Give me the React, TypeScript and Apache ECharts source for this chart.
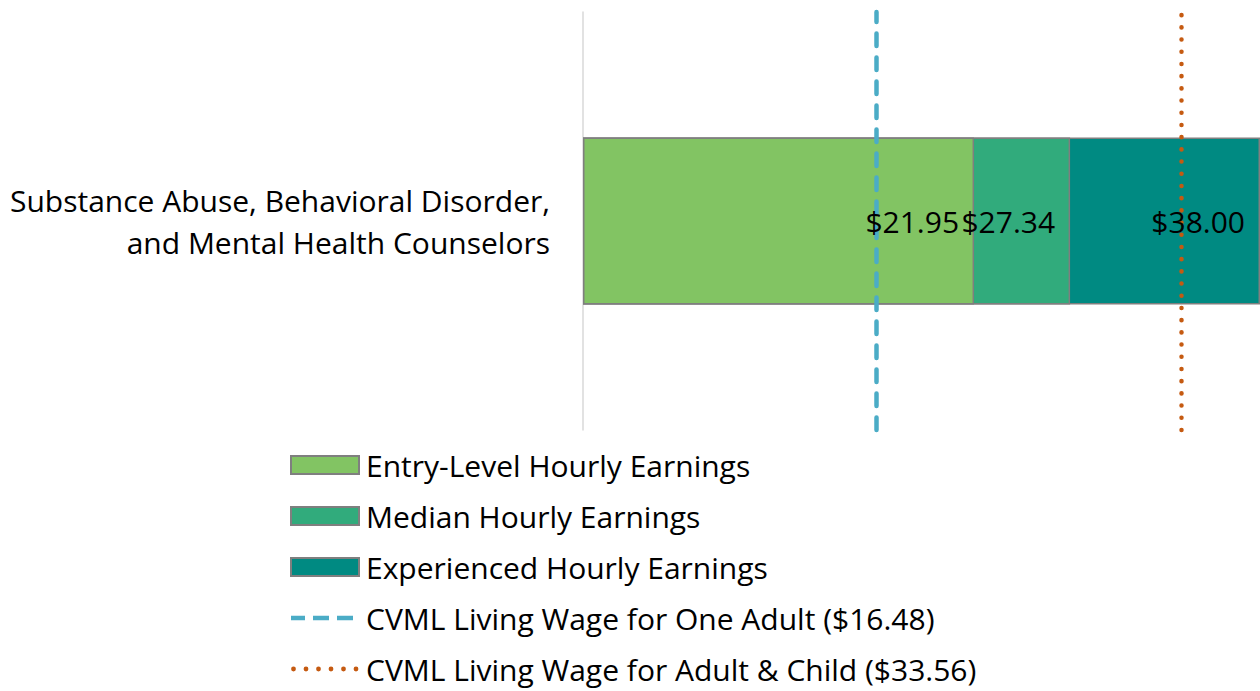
import React, { useEffect, useRef } from "react";
import * as echarts from "echarts";

const categories = ["Substance Abuse, Behavioral Disorder,\nand Mental Health Counselors"];
const entryLevel = [21.95];
const median = [27.34];
const experienced = [38.0];
const livingWageOne = 16.48;
const livingWageChild = 33.56;

const seriesNames = [
  "Entry-Level Hourly Earnings",
  "Median Hourly Earnings",
  "Experienced Hourly Earnings",
  "CVML Living Wage for One Adult ($16.48)",
  "CVML Living Wage for Adult & Child ($33.56)",
];

const FONT = "Open Sans";

function dashIcon(): string {
  let d = "M0 0 L0 0 M68 18 L68 18 ";
  const xs = [-2, 22, 46];
  for (const x of xs) {
    const x0 = Math.max(0, x);
    d += `M${x0} 6.8 L${x + 16} 6.8 L${x + 16} 11.2 L${x0} 11.2 Z `;
  }
  return "path://" + d;
}

function dotIcon(): string {
  let d = "M0 0 L0 0 M68 18 L68 18 ";
  const r = 2.4;
  const cs = [2.5, 15, 27.5, 40, 52.5, 65];
  for (const c of cs) {
    d += `M${c - r} 9 A${r} ${r} 0 1 0 ${c + r} 9 A${r} ${r} 0 1 0 ${c - r} 9 Z `;
  }
  return "path://" + d;
}

export default function App() {
  const ref = useRef<HTMLDivElement>(null);
  useEffect(() => {
    document.body.style.margin = "0";
    const chart = echarts.init(ref.current!, null, { renderer: "svg" });
    const barLabel = {
      show: true,
      position: "insideRight",
      distance: 15,
      color: "#000",
      fontSize: 30,
      fontFamily: FONT,
      formatter: (p: any) => "$" + Number(p.value).toFixed(2),
    };
    const border = { borderColor: "#7f7f7f", borderWidth: 1.5 };
    const dashStyle = { color: "#4bacc6", width: 4.5, type: [12.5, 11.5], cap: "round" };
    const dotStyle = { color: "#c55a11", width: 4.5, type: [0.1, 12.1], cap: "round" };
    const labelSeries = (data: number[], name: string) => ({
      name: name + " label",
      type: "bar",
      data,
      barWidth: "40%",
      barGap: "-100%",
      z: 10,
      silent: true,
      itemStyle: { color: "transparent", borderWidth: 0 },
      label: barLabel,
    });
    chart.setOption({
      animation: false,
      grid: { left: 583, right: 0, top: 12, bottom: 261, containLabel: false },
      xAxis: {
        type: "value",
        min: 0,
        max: 38,
        show: false,
        splitLine: { show: false },
      },
      yAxis: {
        type: "category",
        data: categories,
        axisLine: { show: true, lineStyle: { color: "#d9d9d9", width: 1.5 } },
        axisTick: { show: false },
        axisLabel: {
          margin: 33,
          color: "#000",
          fontSize: 30,
          lineHeight: 42,
          fontFamily: FONT,
          align: "right",
          padding: [0, 0, 4, 0],
        },
      },
      legend: {
        orient: "vertical",
        left: 290,
        top: 450,
        height: 300,
        padding: 0,
        itemWidth: 68,
        itemHeight: 18,
        itemGap: 21,
        data: [
          { name: seriesNames[0], icon: "rect" },
          { name: seriesNames[1], icon: "rect" },
          { name: seriesNames[2], icon: "rect" },
          { name: seriesNames[3], icon: dashIcon(), itemStyle: { color: "#4bacc6", borderWidth: 0 } },
          { name: seriesNames[4], icon: dotIcon(), itemStyle: { color: "#c55a11", borderWidth: 0 } },
        ],
        textStyle: { fontSize: 30, fontFamily: FONT, color: "#000", lineHeight: 30, padding: [0, 0, 0, 2] },
      },
      series: [
        {
          name: seriesNames[0],
          type: "bar",
          data: entryLevel,
          barWidth: "40%",
          barGap: "-100%",
          z: 4,
          itemStyle: { color: "#82c463", ...border },
        },
        {
          name: seriesNames[1],
          type: "bar",
          data: median,
          barWidth: "40%",
          barGap: "-100%",
          z: 3,
          itemStyle: { color: "#31ab7c", ...border },
        },
        {
          name: seriesNames[2],
          type: "bar",
          data: experienced,
          barWidth: "40%",
          barGap: "-100%",
          z: 2,
          itemStyle: { color: "#008a82", ...border },
        },
        labelSeries(entryLevel, seriesNames[0]),
        labelSeries(median, seriesNames[1]),
        labelSeries(experienced, seriesNames[2]),
        {
          name: seriesNames[3],
          type: "line",
          data: [],
          symbol: "none",
          z: 6,
          itemStyle: { color: "#4bacc6" },
          lineStyle: dashStyle,
          markLine: {
            silent: true,
            symbol: "none",
            label: { show: false },
            lineStyle: dashStyle,
            data: [{ xAxis: livingWageOne }],
          },
        },
        {
          name: seriesNames[4],
          type: "line",
          data: [],
          symbol: "none",
          z: 6,
          itemStyle: { color: "#c55a11" },
          lineStyle: dotStyle,
          markLine: {
            silent: true,
            symbol: "none",
            label: { show: false },
            lineStyle: dotStyle,
            data: [{ xAxis: livingWageChild }],
          },
        },
      ],
    });
    return () => chart.dispose();
  }, []);
  return <div ref={ref} style={{ width: 1260, height: 691 }} />;
}
